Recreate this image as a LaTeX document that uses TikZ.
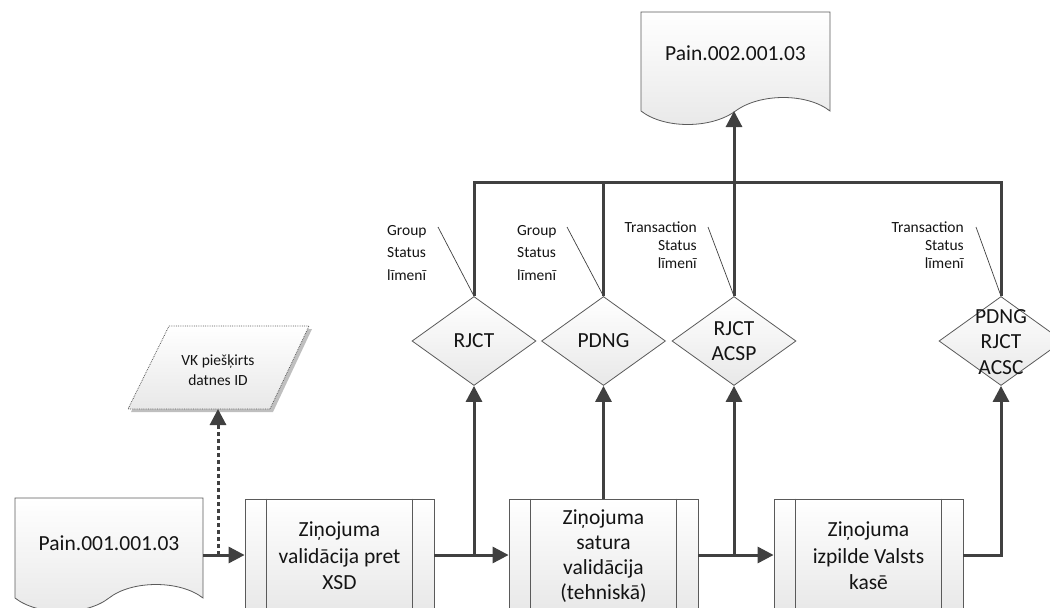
\documentclass[tikz,border=0pt]{standalone}
\usepackage{fontspec}
\setmainfont{Carlito}
\usetikzlibrary{arrows.meta,shapes.geometric}
\definecolor{ln}{HTML}{404040}
\definecolor{bd}{HTML}{5A5A5A}
\definecolor{tx}{HTML}{141414}
\begin{document}
\begin{tikzpicture}[x=1pt,y=-1pt,
  shp/.style={draw=bd, line width=0.8pt, top color=white, bottom color=black!9},
  conn/.style={draw=ln, line width=3pt},
  arr/.style={conn, -{Triangle[length=16pt,width=16pt]}},
  proc/.style={shp, rectangle, minimum width=189pt, minimum height=112pt, inner sep=0pt},
  dia/.style={shp, diamond, minimum width=124pt, minimum height=89pt, inner sep=0pt},
  mtxt/.style={text=tx, align=center, inner sep=0pt, font=\fontsize{21.5}{26.5}\selectfont},
  dtxt/.style={text=tx, align=center, inner sep=0pt, font=\fontsize{21.5}{25.5}\selectfont},
  gtxt/.style={text=tx, align=left, anchor=north west, inner sep=0pt, font=\fontsize{15.5}{22.5}\selectfont},
  ttxt/.style={text=tx, align=right, anchor=north east, inner sep=0pt, font=\fontsize{15.5}{18}\selectfont},
  note/.style={draw=ln, line width=0.7pt}
]
\useasboundingbox (0,0) rectangle (1050,608);
\clip (0,0) rectangle (1050,608);

% top document
\path[shp] (641,12) -- (830,12) -- (830,111)
  .. controls (807,93) and (760,93) .. (735.5,111)
  .. controls (711,129) and (664,129) .. (641,111) -- cycle;
\node[mtxt] (td) at (735.5,53) {Pain.002.001.03};
\coordinate (tdb) at (734,111);

% bottom-left document
\path[shp] (15,498) -- (203,498) -- (203,598)
  .. controls (180,580) and (132,580) .. (109,598)
  .. controls (86,616) and (38,616) .. (15,598) -- cycle;
\node[mtxt] (d1) at (109,543) {Pain.001.001.03};
\coordinate (d1e) at (203,555);

% parallelogram with shadow
\fill[black!25] (172,329) -- (312,329) -- (273,412) -- (131,412) -- cycle;
\path[shp, densely dotted] (169,326) -- (309,326) -- (270,409) -- (128,409) -- cycle;
\node[text=tx, align=center, inner sep=0pt, font=\fontsize{15.5}{20}\selectfont] (vk) at (218,370) {VK piešķirts\\datnes ID};
\coordinate (vkb) at (218,409);

% process boxes
\node[proc] (p1) at (339.5,555) {};
\node[proc] (p2) at (603.5,555) {};
\node[proc] (p3) at (868.5,555) {};
\foreach \p in {p1,p2,p3}{
  \draw[bd, line width=0.8pt] ([xshift=22pt]\p.north west) -- ([xshift=22pt]\p.south west);
  \draw[bd, line width=0.8pt] ([xshift=-22pt]\p.north east) -- ([xshift=-22pt]\p.south east);
}
\node[mtxt] (t1) at (339.5,556) {Ziņojuma\\validācija pret\\XSD};
\node[mtxt, font=\fontsize{21.5}{25}\selectfont] (t2) at (603.5,556) {Ziņojuma\\satura\\validācija\\(tehniskā)};
\node[mtxt] (t3) at (868.5,556) {Ziņojuma\\izpilde Valsts\\kasē};

% diamonds
\node[dia] (r1) at (474,341) {};
\node[dia] (pd) at (603.5,341) {};
\node[dia] (ac) at (734,341) {};
\node[dia] (a2) at (1001,341) {};
\node[dtxt] (r1t) at (474,341) {RJCT};
\node[dtxt] (pdt) at (603.5,341) {PDNG};
\node[dtxt] (act) at (734,341) {RJCT\\ACSP};
\node[dtxt] (a2t) at (1001,342) {PDNG\\RJCT\\ACSC};

% annotations
\node[gtxt] (g1) at (387,225) {Group\\Status\\līmenī};
\node[gtxt] (g2) at (517,225) {Group\\Status\\līmenī};
\node[ttxt] (n1) at (697,222) {Transaction\\Status\\līmenī};
\node[ttxt] (n2) at (964,222) {Transaction\\Status\\līmenī};
\coordinate (g1a) at (438,227);
\coordinate (g2a) at (567,227);
\coordinate (n1a) at (708,227);
\coordinate (n2a) at (976,227);
\draw[note] (g1a) -- (r1.north);
\draw[note] (g2a) -- (pd.north);
\draw[note] (n1a) -- (ac.north);
\draw[note] (n2a) -- (a2.north);

% connectors along the bottom
\coordinate (j0) at (218,555);
\coordinate (j1) at (474,555);
\coordinate (j2) at (734,555);
\coordinate (j3) at (1001,555);
\draw[arr] (d1e) -- (p1.west);
\draw[arr, dash pattern=on 4pt off 3pt] (j0) -- (vkb);
\draw[arr] (p1.east) -- (p2.west);
\draw[arr] (j1) -- (r1.south);
\draw[arr] (pd.south |- p2.north) -- (pd.south);
\draw[arr] (p2.east) -- (p3.west);
\draw[arr] (j2) -- (ac.south);
\draw[arr] (p3.east) -- (j3) -- (a2.south);

% connectors along the top
\coordinate (tl) at (474,182);
\coordinate (tr) at (1001,182);
\draw[conn] (r1.north) -- (tl) -- (tr) -- (a2.north);
\draw[conn] (pd.north) -- (pd.north |- tl);
\draw[arr] (ac.north) -- (tdb);
\end{tikzpicture}
\end{document}
